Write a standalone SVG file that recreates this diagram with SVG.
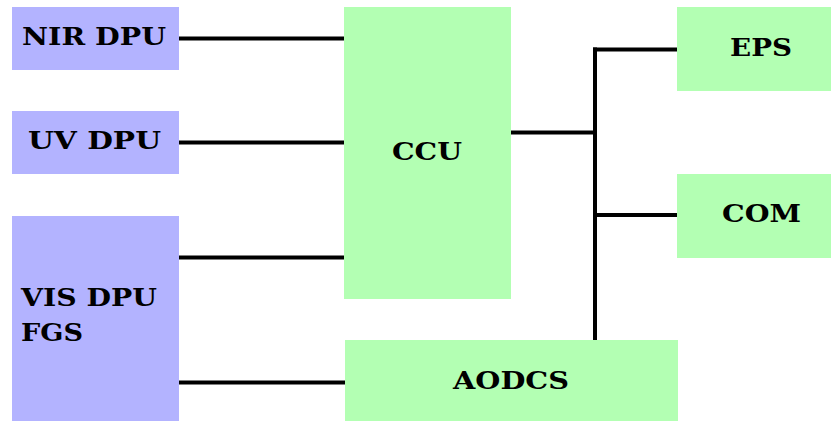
<svg xmlns="http://www.w3.org/2000/svg" width="831" height="421" viewBox="0 0 831 421">
<style>
.dpu{fill:#b3b3ff}
.sub{fill:#b3ffb3}
text{font-family:"DejaVu Serif","Liberation Serif",serif;font-weight:bold;font-size:25px;fill:#000}
.c line{stroke:#000;stroke-width:4}
</style>
<rect width="831" height="421" fill="#fff"/>
<g id="nir"><rect class="dpu" x="12" y="7" width="167" height="63"/><text x="22" y="45" textLength="144" lengthAdjust="spacingAndGlyphs">NIR DPU</text></g>
<g id="uv"><rect class="dpu" x="12" y="111" width="167" height="63"/><text x="28" y="149" textLength="133" lengthAdjust="spacingAndGlyphs">UV DPU</text></g>
<g id="vis"><rect class="dpu" x="12" y="216" width="167" height="205"/><text x="21" y="306" textLength="136" lengthAdjust="spacingAndGlyphs">VIS DPU</text><text x="21" y="341" textLength="62" lengthAdjust="spacingAndGlyphs">FGS</text></g>
<g id="ccu"><rect class="sub" x="344" y="7" width="167" height="292"/><text x="392" y="160" textLength="70" lengthAdjust="spacingAndGlyphs">CCU</text></g>
<g id="aodcs"><rect class="sub" x="345" y="340" width="333" height="81"/><text x="453" y="389" textLength="116" lengthAdjust="spacingAndGlyphs">AODCS</text></g>
<g id="eps"><rect class="sub" x="677" y="7" width="154" height="84"/><text x="730" y="56" textLength="62" lengthAdjust="spacingAndGlyphs">EPS</text></g>
<g id="com"><rect class="sub" x="677" y="174" width="154" height="84"/><text x="722" y="222" textLength="79" lengthAdjust="spacingAndGlyphs">COM</text></g>
<g id="connectors" class="c">
<line x1="179" y1="38.5" x2="344" y2="38.5"/>
<line x1="179" y1="142.5" x2="344" y2="142.5"/>
<line x1="179" y1="257.5" x2="344" y2="257.5"/>
<line x1="179" y1="382.5" x2="345" y2="382.5"/>
<line x1="511" y1="132.5" x2="595" y2="132.5"/>
<line x1="595" y1="47.5" x2="595" y2="340"/>
<line x1="593" y1="49.5" x2="677" y2="49.5"/>
<line x1="595" y1="215" x2="677" y2="215"/>
</g>
</svg>
